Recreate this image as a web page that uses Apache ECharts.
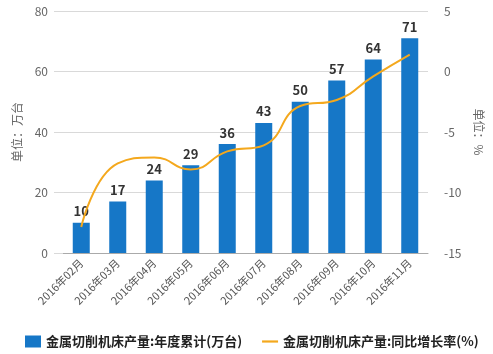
<!DOCTYPE html>
<html><head><meta charset="utf-8">
<script src="https://cdn.jsdelivr.net/npm/echarts@6/dist/echarts.min.js"></script>
<style>html,body{margin:0;padding:0;background:#fff}#c{width:493px;height:354px}</style>
</head><body><div id="c"></div>
<script>
var categories = ['2016年02月','2016年03月','2016年04月','2016年05月','2016年06月','2016年07月','2016年08月','2016年09月','2016年10月','2016年11月'];
var barValues = [10,17,24,29,36,43,50,57,64,71];
var lineValues = [-12.85,-7.6,-7.1,-8.1,-6.6,-6.1,-2.85,-2.35,-0.4,1.4];
var barName = '金属切削机床产量:年度累计(万台)';
var lineName = '金属切削机床产量:同比增长率(%)';
var leftTicks = {min:0,max:80,interval:20};
var rightTicks = {min:-15,max:5,interval:5};
var FONT = '"Noto Sans CJK SC","Noto Sans",sans-serif';
var chart = echarts.init(document.getElementById('c'));
chart.setOption({
  animation:false,
  textStyle:{fontFamily:FONT},
  grid:{left:63,right:65,top:11,bottom:101},
  legend:{left:20,top:330,width:469,itemWidth:16,itemHeight:12,itemGap:20,symbolKeepAspect:true,
    textStyle:{fontSize:13,fontWeight:'bold',color:'#222',fontFamily:FONT},
    data:[{name:barName,icon:'rect'},{name:lineName,icon:'path://M0,0H16V2.2H0Z'}]},
  xAxis:{type:'category',data:categories,
    axisLine:{lineStyle:{color:'#aaa'}},
    axisTick:{alignWithLabel:true,length:6,lineStyle:{color:'#aaa'}},
    axisLabel:{rotate:45,fontSize:11,color:'#555',margin:8,interval:0,fontFamily:FONT}},
  yAxis:[
    {type:'value',min:leftTicks.min,max:leftTicks.max,interval:leftTicks.interval,
     name:'单位：万台',nameLocation:'middle',nameGap:39,nameRotate:90,
     nameTextStyle:{color:'#666',fontSize:12,fontFamily:FONT},
     axisLine:{show:false},axisTick:{show:true,length:9,lineStyle:{color:'#d9d9d9'}},
     axisLabel:{color:'#666',fontSize:12,margin:15},
     splitLine:{lineStyle:{color:'#d9d9d9'}}},
    {type:'value',min:rightTicks.min,max:rightTicks.max,interval:rightTicks.interval,position:'right',
     name:'单位：%',nameLocation:'middle',nameGap:45,nameRotate:-90,
     nameTextStyle:{color:'#666',fontSize:12,fontFamily:FONT},
     axisLine:{show:false},axisTick:{show:false},
     axisLabel:{color:'#666',fontSize:12,margin:16},
     splitLine:{show:false}}
  ],
  series:[
    {name:barName,type:'bar',data:barValues,barWidth:17,yAxisIndex:0,
     itemStyle:{color:'#1677c7'},
     label:{show:true,position:'top',distance:5,color:'#333',fontSize:13,fontWeight:'bold',fontFamily:FONT}},
    {name:lineName,type:'line',data:lineValues,yAxisIndex:1,smooth:true,symbol:'none',
     lineStyle:{color:'#f4a81d',width:2},itemStyle:{color:'#f4a81d'}}
  ]
});
</script></body></html>
